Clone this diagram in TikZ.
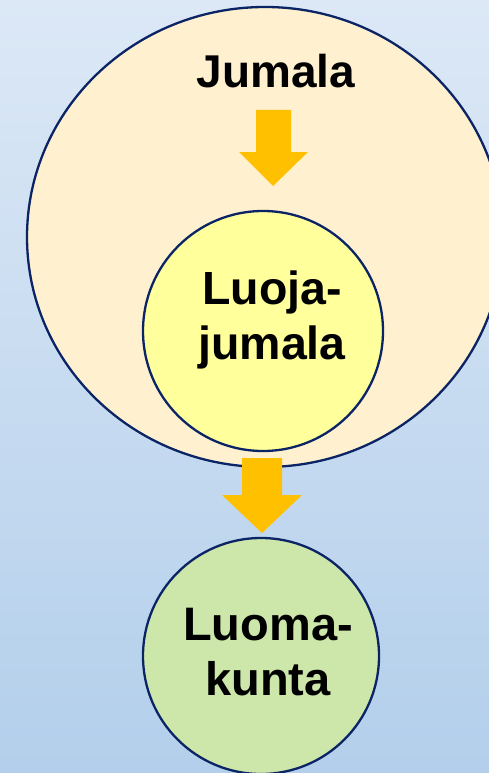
\documentclass[tikz,border=0pt]{standalone}
\usepackage{fontspec}
\setmainfont{Liberation Sans}
\begin{document}
\begin{tikzpicture}[x=1pt,y=-1pt,
  outline/.style={draw=navy,line width=2.3pt},
  blockarrow/.style={fill=arrowyellow,draw=none},
  label/.style={font=\fontsize{47}{55}\selectfont\bfseries,align=center,inner sep=0pt},
  smalllabel/.style={label,font=\fontsize{46.5}{55}\selectfont\bfseries}]
\definecolor{navy}{HTML}{0B2466}
\definecolor{cream}{HTML}{FFF1CF}
\definecolor{paleyellow}{HTML}{FFFF9B}
\definecolor{palegreen}{HTML}{CCE7A9}
\definecolor{arrowyellow}{HTML}{FFC000}
\definecolor{bgtop}{HTML}{DCE8F6}
\definecolor{bgbottom}{HTML}{B3CFEB}
\useasboundingbox (0,0) rectangle (489,773);
\shade[top color=bgtop,bottom color=bgbottom] (0,0) rectangle (489,773);
\begin{scope}
\clip (0,0) rectangle (489,773);
\draw[outline,fill=cream] (265,237) ellipse [x radius=238,y radius=230];
\end{scope}
\node[outline,fill=paleyellow,circle,minimum size=240pt,inner sep=0pt] (creator) at (263,331) {};
\node[outline,fill=palegreen,circle,minimum size=236pt,inner sep=0pt] (creation) at (261,656) {};
\fill[blockarrow] (256,110) -- (291,110) -- (291,152) -- (308,152) -- (273,186) -- (239,152) -- (256,152) -- cycle;
\fill[blockarrow] (242,458) -- (282,458) -- (282,495) -- (302,495) -- (262,533) -- (222,495) -- (242,495) -- cycle;
\node[smalllabel,anchor=base,font=\fontsize{46}{55}\selectfont\bfseries] (god) at (276,88) {Jumala};
\node[smalllabel] (creatorlabel) at (272,320) {Luoja-\\jumala};
\node[label] (creationlabel) at (268,652) {Luoma-\\kunta};
\end{tikzpicture}
\end{document}
